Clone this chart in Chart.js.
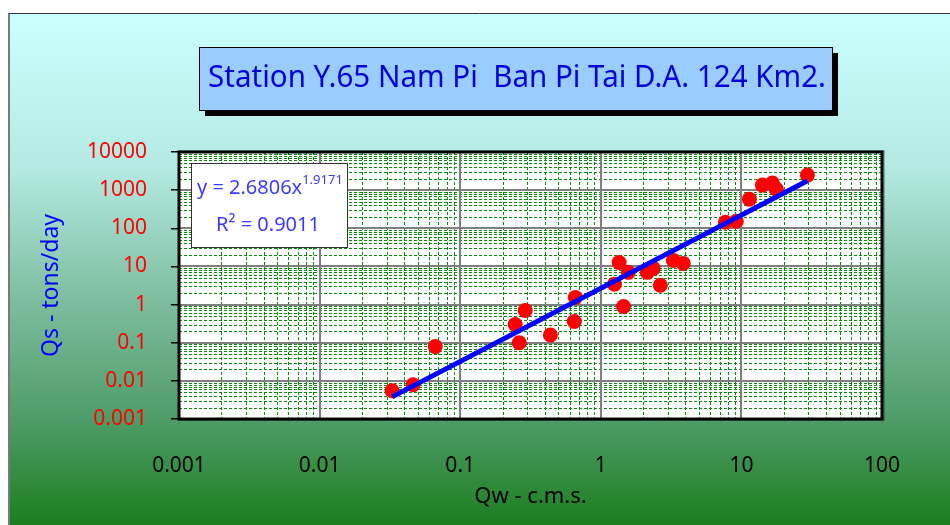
<!DOCTYPE html>
<html>
<head>
<meta charset="utf-8">
<script src="https://cdn.jsdelivr.net/npm/chart.js@4.4.0/dist/chart.umd.min.js"></script>
<style>
  html, body { margin: 0; padding: 0; background: #fff; }
  #wrap { width: 950px; height: 525px; }
</style>
</head>
<body>
<div id="wrap"><canvas id="ratingChart" width="950" height="525"></canvas></div>
<script>
// Sediment rating curve - Qw (c.m.s.) vs Qs (tons/day)
const qwValues = [0.0328, 0.0462, 0.0664, 0.246, 0.263, 0.290, 0.438, 0.648, 0.659, 1.25, 1.35, 1.45, 1.57,
  2.14, 2.36, 2.65, 3.28, 3.86, 7.69, 9.2, 11.4, 14.1, 16.6, 17.7, 29.5];
const qsValues = [0.0055, 0.0079, 0.079, 0.30, 0.10, 0.70, 0.16, 0.36, 1.53, 3.4, 12.7, 0.89, 7.0,
  7.0, 8.9, 3.2, 14.4, 12.0, 144, 153, 580, 1355, 1530, 1060, 2480];

// power trendline y = 2.6806x^1.9171, end points
const trendQw = [0.0328, 29.5];
const trendQs = [0.0038, 1760];

const xTickLabels = ["0.001", "0.01", "0.1", "1", "10", "100"];
const yTickLabels = ["0.001", "0.01", "0.1", "1", "10", "100", "1000", "10000"];

const titleText = "Station Y.65 Nam Pi  Ban Pi Tai D.A. 124 Km2.";
const FONT = "'Noto Sans', 'DejaVu Sans', sans-serif";

function decadeIndex(value) {
  const e = Math.log10(value);
  return Math.abs(e - Math.round(e)) < 1e-6 ? Math.round(e) + 3 : -1;
}

// background, outer border and title box
const sheetBackground = {
  id: "sheetBackground",
  beforeDraw(chart) {
    const { ctx, width, height } = chart;
    ctx.save();
    ctx.fillStyle = "#fff";
    ctx.fillRect(0, 0, width, height);

    const g = ctx.createLinearGradient(0, 13, 0, height);
    g.addColorStop(0, "#ccffff");
    g.addColorStop(0.3, "#b4eae3");
    g.addColorStop(0.55, "#80bfa2");
    g.addColorStop(0.8, "#4d9b66");
    g.addColorStop(1, "#1c7e1e");
    ctx.fillStyle = g;
    ctx.fillRect(9, 13, width - 9, height - 13);

    ctx.strokeStyle = "#7a7a7a";
    ctx.lineWidth = 2;
    ctx.beginPath();
    ctx.moveTo(9, 13);
    ctx.lineTo(9, height);
    ctx.stroke();
    ctx.strokeStyle = "#333";
    ctx.lineWidth = 1;
    ctx.beginPath();
    ctx.moveTo(9, 13.5);
    ctx.lineTo(width, 13.5);
    ctx.stroke();

    // title box with shadow
    ctx.fillStyle = "#000";
    ctx.fillRect(205, 53, 633, 63);
    ctx.fillStyle = "#99ccff";
    ctx.fillRect(199, 47, 633, 63);
    ctx.strokeStyle = "#000";
    ctx.strokeRect(199.5, 47.5, 633, 63);

    ctx.fillStyle = "#0000dd";
    ctx.font = "31px " + FONT;
    ctx.textAlign = "center";
    ctx.textBaseline = "middle";
    ctx.fillText(titleText, 517, 78, 618);
    ctx.restore();
  },
};

// log paper grid inside the plot area
const logPaper = {
  id: "logPaper",
  beforeDatasetsDraw(chart) {
    const { ctx, chartArea: a, scales } = chart;
    const x = scales.x, y = scales.y;
    ctx.save();
    // soft shadow round the frame
    ctx.fillStyle = "rgba(0,0,0,0.25)";
    ctx.fillRect(a.left - 1, a.top - 2, a.right - a.left + 4, a.bottom - a.top + 4);
    ctx.fillStyle = "#fff";
    ctx.fillRect(a.left, a.top, a.right - a.left, a.bottom - a.top);

    ctx.lineWidth = 1;
    ctx.strokeStyle = "#0b8a10";
    ctx.setLineDash([3, 2]);
    ctx.beginPath();
    for (let e = -3; e < 2; e++) {
      for (let k = 2; k <= 9; k++) {
        const px = Math.round(x.getPixelForValue(k * Math.pow(10, e))) + 0.5;
        ctx.moveTo(px, a.top);
        ctx.lineTo(px, a.bottom);
      }
    }
    for (let e = -3; e < 4; e++) {
      for (let k = 2; k <= 9; k++) {
        const py = Math.round(y.getPixelForValue(k * Math.pow(10, e))) + 0.5;
        ctx.moveTo(a.left, py);
        ctx.lineTo(a.right, py);
      }
    }
    ctx.stroke();

    ctx.setLineDash([]);
    ctx.strokeStyle = "#7f7f7f";
    ctx.lineWidth = 2;
    ctx.beginPath();
    for (let e = -2; e < 2; e++) {
      const px = Math.round(x.getPixelForValue(Math.pow(10, e)));
      ctx.moveTo(px, a.top);
      ctx.lineTo(px, a.bottom);
    }
    for (let e = -2; e < 4; e++) {
      const py = Math.round(y.getPixelForValue(Math.pow(10, e)));
      ctx.moveTo(a.left, py);
      ctx.lineTo(a.right, py);
    }
    ctx.stroke();

    ctx.strokeStyle = "#000";
    ctx.lineWidth = 3;
    ctx.strokeRect(a.left, a.top, a.right - a.left, a.bottom - a.top);
    ctx.restore();
  },
  afterDatasetsDraw(chart) {
    // trendline equation box
    const { ctx } = chart;
    ctx.save();
    ctx.fillStyle = "#fff";
    ctx.fillRect(191, 163, 156, 84);
    ctx.strokeStyle = "#333";
    ctx.lineWidth = 1;
    ctx.strokeRect(191.5, 163.5, 156, 84);

    ctx.fillStyle = "#3b3bff";
    ctx.textBaseline = "alphabetic";
    ctx.textAlign = "left";
    ctx.font = "20px " + FONT;
    const base = "y = 2.6806x";
    ctx.fillText(base, 197, 194);
    const w = ctx.measureText(base).width;
    ctx.font = "13px " + FONT;
    ctx.fillText("1.9171", 197 + w, 184);
    ctx.font = "20px " + FONT;
    ctx.textAlign = "center";
    ctx.fillText("R\u00b2 = 0.9011", 268, 231);
    ctx.restore();
  },
};

const ctx = document.getElementById("ratingChart").getContext("2d");

new Chart(ctx, {
  type: "scatter",
  data: {
    datasets: [
      {
        label: "Power (Qs)",
        type: "line",
        data: trendQw.map((q, i) => ({ x: q, y: trendQs[i] })),
        borderColor: "#0000ff",
        borderWidth: 5,
        pointRadius: 0,
        fill: false,
        order: 0,
      },
      {
        label: "Qs",
        data: qwValues.map((q, i) => ({ x: q, y: qsValues[i] })),
        backgroundColor: "#ff0000",
        borderColor: "#ff0000",
        pointRadius: 7.5,
        borderWidth: 0,
        order: 1,
      },
    ],
  },
  options: {
    responsive: false,
    animation: false,
    events: [],
    layout: { padding: { left: 0, top: 152, right: 68, bottom: 0 } },
    plugins: {
      legend: { display: false },
      tooltip: { enabled: false },
    },
    scales: {
      x: {
        type: "logarithmic",
        min: 0.001,
        max: 100,
        afterFit: (scale) => { scale.height = 106; },
        grid: { display: false, drawOnChartArea: false },
        border: { display: false },
        ticks: {
          autoSkip: false,
          maxRotation: 0,
          padding: 26,
          color: "#000",
          font: { family: FONT, size: 21 },
          callback: (value) => {
            const i = decadeIndex(value);
            return i >= 0 ? xTickLabels[i] : "";
          },
        },
        title: {
          display: true,
          text: "Qw - c.m.s.",
          color: "#000",
          font: { family: FONT, size: 22 },
          padding: { top: 0, bottom: 15 },
        },
      },
      y: {
        type: "logarithmic",
        min: 0.001,
        max: 10000,
        afterFit: (scale) => { scale.width = 179; },
        grid: {
          drawOnChartArea: false,
          tickLength: 8,
          lineWidth: 1.5,
          color: (c) => (c.tick && decadeIndex(c.tick.value) >= 0 ? "#000" : "rgba(0,0,0,0)"),
        },
        border: { display: false },
        ticks: {
          autoSkip: false,
          padding: 24,
          color: "#ff0000",
          font: { family: FONT, size: 21 },
          callback: (value) => {
            const i = decadeIndex(value);
            return i >= 0 ? yTickLabels[i] : "";
          },
        },
        title: {
          display: true,
          text: "Qs - tons/day",
          color: "#0000ff",
          font: { family: FONT, size: 23 },
          padding: { top: 38, bottom: 0 },
        },
      },
    },
  },
  plugins: [sheetBackground, logPaper],
});
</script>
</body>
</html>
